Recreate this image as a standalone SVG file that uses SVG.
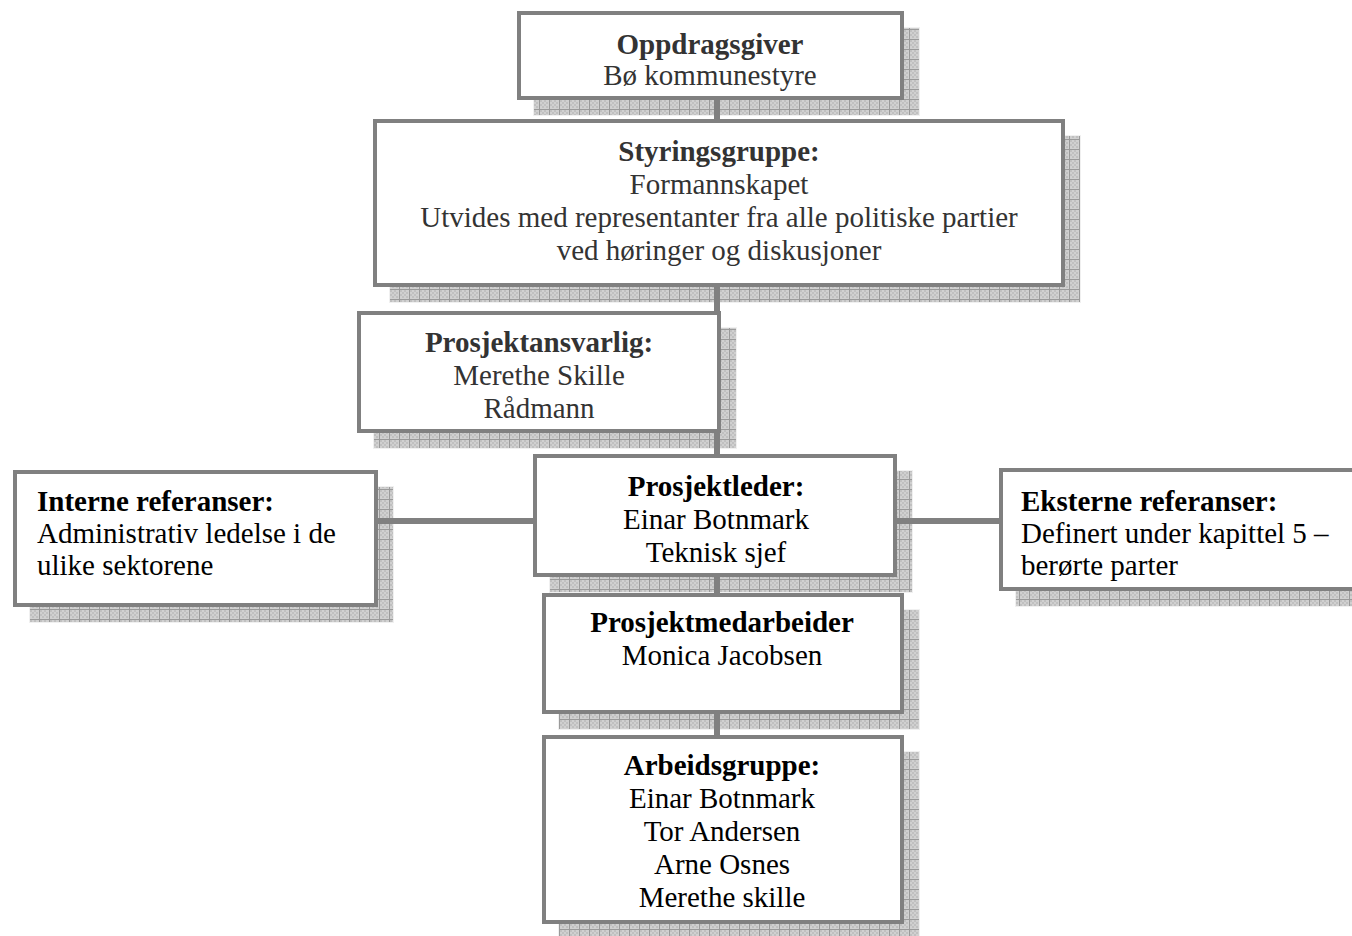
<svg xmlns="http://www.w3.org/2000/svg" width="1352" height="936" viewBox="0 0 1352 936">
<defs>
<pattern id="grid" width="10" height="10" patternUnits="userSpaceOnUse">
<rect width="10" height="10" fill="#d0d0d0"/>
<rect x="0" y="0" width="2" height="2" fill="#c0c0c0"/><rect x="4" y="0" width="2" height="2" fill="#c0c0c0"/>
<rect x="2" y="2" width="2" height="2" fill="#c0c0c0"/><rect x="6" y="2" width="2" height="2" fill="#c0c0c0"/>
<rect x="0" y="4" width="2" height="2" fill="#c0c0c0"/><rect x="4" y="4" width="2" height="2" fill="#c0c0c0"/>
<rect x="2" y="6" width="2" height="2" fill="#c0c0c0"/><rect x="6" y="6" width="2" height="2" fill="#c0c0c0"/>
<rect x="9" y="0" width="1" height="10" fill="#9a9a9a"/>
<rect x="0" y="9" width="10" height="1" fill="#9a9a9a"/>
</pattern>
</defs>
<style>
.sh{fill:url(#grid);stroke:#f0f0f0;stroke-width:1}
.box{fill:#fff;stroke:#808080;stroke-width:4}
.con{stroke:#808080;stroke-width:6;fill:none}
text{font-family:"Liberation Serif","Times New Roman",serif;font-size:29px;fill:#000}
.c{text-anchor:middle}
.b{font-weight:bold}
.g{fill:#333}
</style>
<rect width="1352" height="936" fill="#fff"/>
<g id="shadows">
<rect class="sh" x="533.5" y="27.5" width="386" height="88"/>
<rect class="sh" x="389.5" y="135.5" width="691" height="167"/>
<rect class="sh" x="373.5" y="327.5" width="363" height="121"/>
<rect class="sh" x="549.5" y="470.5" width="363" height="122"/>
<rect class="sh" x="29.5" y="486.5" width="364" height="136"/>
<rect class="sh" x="1015.5" y="484.5" width="370" height="122"/>
<rect class="sh" x="558.5" y="609.5" width="361" height="120"/>
<rect class="sh" x="558.5" y="751.5" width="361" height="200"/>
</g>
<g id="connectors">
<line class="con" x1="717" y1="100" x2="717" y2="737"/>
<line class="con" x1="376" y1="521" x2="535" y2="521"/>
<line class="con" x1="895" y1="521" x2="1001" y2="521"/>
</g>
<g id="oppdragsgiver">
<rect class="box" x="519" y="13" width="383" height="85"/>
<text class="c b g" x="710" y="54">Oppdragsgiver</text>
<text class="c g" x="710" y="85">Bø kommunestyre</text>
</g>
<g id="styringsgruppe">
<rect class="box" x="375" y="121" width="688" height="164"/>
<text class="c b g" x="719" y="161">Styringsgruppe:</text>
<text class="c g" x="719" y="194">Formannskapet</text>
<text class="c g" x="719" y="227">Utvides med representanter fra alle politiske partier</text>
<text class="c g" x="719" y="260">ved høringer og diskusjoner</text>
</g>
<g id="prosjektansvarlig">
<rect class="box" x="359" y="313" width="360" height="118"/>
<text class="c b g" x="539" y="352">Prosjektansvarlig:</text>
<text class="c g" x="539" y="385">Merethe Skille</text>
<text class="c g" x="539" y="418">Rådmann</text>
</g>
<g id="prosjektleder">
<rect class="box" x="535" y="456" width="360" height="119"/>
<text class="c b" x="716" y="496">Prosjektleder:</text>
<text class="c" x="716" y="529">Einar Botnmark</text>
<text class="c" x="716" y="562">Teknisk sjef</text>
</g>
<g id="interne">
<rect class="box" x="15" y="472" width="361" height="133"/>
<text class="b" x="37" y="511">Interne referanser:</text>
<text x="37" y="543">Administrativ ledelse i de</text>
<text x="37" y="575">ulike sektorene</text>
</g>
<g id="eksterne">
<rect class="box" x="1001" y="470" width="370" height="119"/>
<text class="b" x="1021" y="511">Eksterne referanser:</text>
<text x="1021" y="543">Definert under kapittel 5 –</text>
<text x="1021" y="575">berørte parter</text>
</g>
<g id="prosjektmedarbeider">
<rect class="box" x="544" y="595" width="358" height="117"/>
<text class="c b" x="722" y="632">Prosjektmedarbeider</text>
<text class="c" x="722" y="665">Monica Jacobsen</text>
</g>
<g id="arbeidsgruppe">
<rect class="box" x="544" y="737" width="358" height="185"/>
<text class="c b" x="722" y="775">Arbeidsgruppe:</text>
<text class="c" x="722" y="808">Einar Botnmark</text>
<text class="c" x="722" y="841">Tor Andersen</text>
<text class="c" x="722" y="874">Arne Osnes</text>
<text class="c" x="722" y="907">Merethe skille</text>
</g>
</svg>
